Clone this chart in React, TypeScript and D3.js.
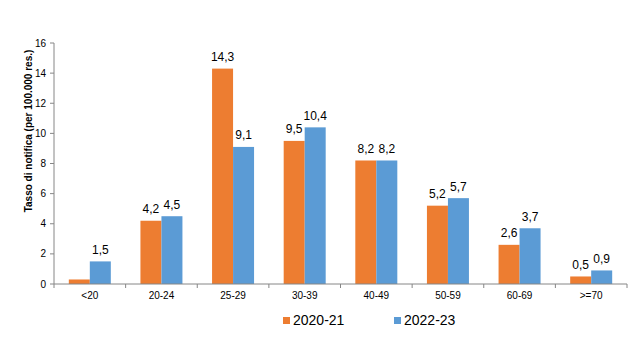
import React from "react";
import * as d3 from "d3";

const categories = ["<20", "20-24", "25-29", "30-39", "40-49", "50-59", "60-69", ">=70"];
const seriesNames = ["2020-21", "2022-23"];
const values2020 = [0.3, 4.2, 14.3, 9.5, 8.2, 5.2, 2.6, 0.5];
const values2022 = [1.5, 4.5, 9.1, 10.4, 8.2, 5.7, 3.7, 0.9];
const labels2020 = ["", "4,2", "14,3", "9,5", "8,2", "5,2", "2,6", "0,5"];
const labels2022 = ["1,5", "4,5", "9,1", "10,4", "8,2", "5,7", "3,7", "0,9"];
const yTicks = [0, 2, 4, 6, 8, 10, 12, 14, 16];
const colors = ["#ED7D31", "#5B9BD5"];

export default function App() {
  const W = 641, H = 358;
  const left = 54, right = 627, top = 43, bottom = 284;
  const x = d3.scaleBand<string>().domain(categories).range([left, right]).paddingInner(0).paddingOuter(0);
  const y = d3.scaleLinear().domain([0, 16]).range([bottom, top]);
  const bw = 21;
  const series = [values2020, values2022];
  const labs = [labels2020, labels2022];
  const font = "Liberation Sans, Arial, sans-serif";
  const axisColor = "#868686";
  return (
    <svg width={W} height={H} style={{ position: "absolute", left: 0, top: 0, fontFamily: font }}>
      <rect width={W} height={H} fill="#fff" />
      {categories.map((c, i) => {
        const cx = (x(c) as number) + x.bandwidth() / 2;
        return series.map((s, k) => {
          const x0 = cx - bw + k * bw;
          return (
            <g key={c + k}>
              <rect x={x0} y={y(s[i])} width={bw} height={bottom - y(s[i])} fill={colors[k]} />
              {labs[k][i] && (
                <text x={x0 + bw / 2} y={y(s[i]) - 7.5} textAnchor="middle" fontSize={12} fill="#000">
                  {labs[k][i]}
                </text>
              )}
            </g>
          );
        });
      })}
      {/* y axis */}
      <line x1={left} x2={left} y1={top} y2={bottom} stroke={axisColor} />
      {yTicks.map((t) => (
        <g key={t}>
          <line x1={left - 4} x2={left} y1={y(t)} y2={y(t)} stroke={axisColor} />
          <text x={left - 8} y={y(t) + 3.5} textAnchor="end" fontSize={10} fill="#000">{t}</text>
        </g>
      ))}
      {/* x axis */}
      <line x1={left} x2={right} y1={bottom} y2={bottom} stroke={axisColor} />
      {categories.map((c, i) => (
        <g key={c}>
          <line x1={(x(c) as number) + x.bandwidth()} x2={(x(c) as number) + x.bandwidth()} y1={bottom} y2={bottom + 4} stroke={axisColor} />
          {i === 0 && <line x1={left} x2={left} y1={bottom} y2={bottom + 4} stroke={axisColor} />}
          <text x={(x(c) as number) + x.bandwidth() / 2} y={bottom + 15} textAnchor="middle" fontSize={10} fill="#000">{c}</text>
        </g>
      ))}
      <text transform={`translate(32, 131) rotate(-90)`} textAnchor="middle" fontSize={10} fontWeight="bold" fill="#000">
        Tasso di notifica (per 100.000 res.)
      </text>
      {/* legend */}
      {seriesNames.map((n, k) => (
        <g key={n} transform={`translate(${k === 0 ? 283 : 394}, 317)`}>
          <rect x={0} y={0} width={7} height={7} fill={colors[k]} />
          <text x={10} y={8} fontSize={14} fill="#000">{n}</text>
        </g>
      ))}
    </svg>
  );
}
